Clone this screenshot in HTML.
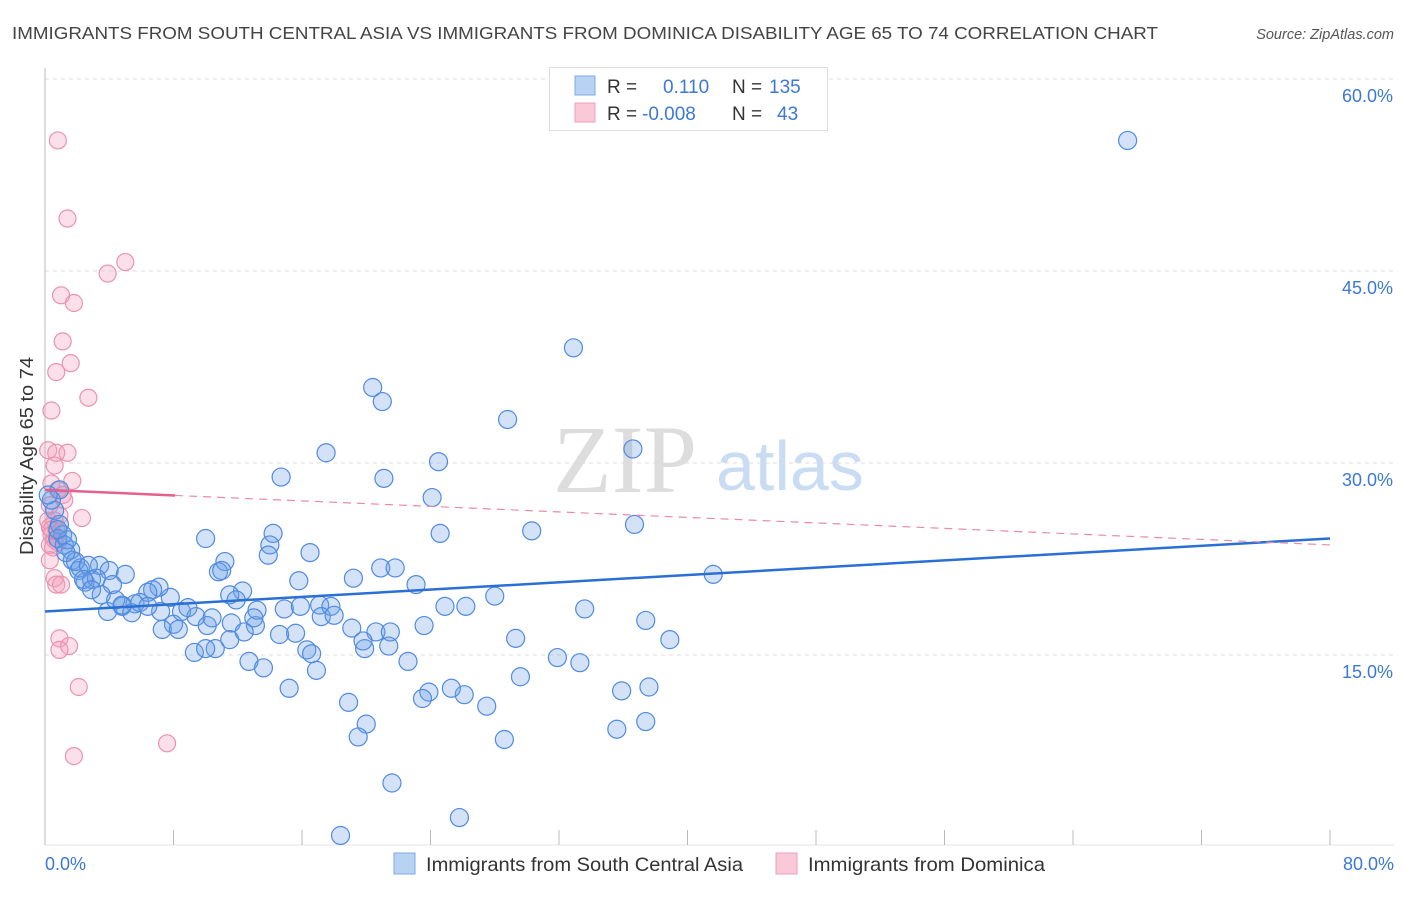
<!DOCTYPE html>
<html><head><meta charset="utf-8">
<style>
body{margin:0;background:#fff;font-family:"Liberation Sans",sans-serif;}
svg text{font-family:"Liberation Sans",sans-serif;}
</style></head>
<body>
<svg id="chart" width="1406" height="892" xmlns="http://www.w3.org/2000/svg">
<text x="12" y="39" font-size="17.5" fill="#444" textLength="1146" lengthAdjust="spacingAndGlyphs">IMMIGRANTS FROM SOUTH CENTRAL ASIA VS IMMIGRANTS FROM DOMINICA DISABILITY AGE 65 TO 74 CORRELATION CHART</text>
<text x="1394" y="39" font-size="14.5" fill="#555" font-style="italic" text-anchor="end">Source: ZipAtlas.com</text>
<g>
<text x="553" y="492" font-size="96" fill="#ddd" style="font-family:'Liberation Serif',serif">ZIP</text>
<text x="716" y="490" font-size="70" fill="#c9dcf3">atlas</text>
</g>
<text transform="translate(33,456) rotate(-90)" font-size="18" fill="#333" text-anchor="middle" textLength="198" lengthAdjust="spacingAndGlyphs">Disability Age 65 to 74</text>
<g id="grid"></g>
<g id="axes"></g>
<g id="pink"></g>
<g id="blue"></g>
<g id="trend"></g>
<g>
<rect x="549.5" y="67.5" width="278" height="63" fill="#fff" stroke="#ddd"/>
<rect x="575" y="76" width="20" height="19" fill="#b8d2f3" stroke="#7fa9e3"/>
<rect x="575" y="103" width="20" height="19" fill="#f9c9d7" stroke="#eda0b8"/>
<text x="607" y="93" font-size="19" fill="#333">R =</text>
<text x="663" y="93" font-size="19" fill="#3b78d8">0.110</text>
<text x="732" y="93" font-size="19" fill="#333">N =</text>
<text x="769" y="93" font-size="19" fill="#3b78d8">135</text>
<text x="607" y="120" font-size="19" fill="#333">R =</text>
<text x="642" y="120" font-size="19" fill="#3b78d8">-0.008</text>
<text x="732" y="120" font-size="19" fill="#333">N =</text>
<text x="777" y="120" font-size="19" fill="#3b78d8">43</text>
</g>
<g>
<rect x="394" y="853" width="21" height="21" fill="#b8d2f3" stroke="#7fa9e3"/>
<text x="426" y="871" font-size="19.5" fill="#333" textLength="317" lengthAdjust="spacingAndGlyphs">Immigrants from South Central Asia</text>
<rect x="776" y="853" width="21" height="21" fill="#f9c9d7" stroke="#eda0b8"/>
<text x="808" y="871" font-size="19.5" fill="#333" textLength="237" lengthAdjust="spacingAndGlyphs">Immigrants from Dominica</text>
</g>
</svg>
<script>
const yTicks=[15,30,45,60];
const yTickLabels=["15.0%","30.0%","45.0%","60.0%"];
const xTickLabels=["0.0%","80.0%"];
const blueX=[67.4,32.9,20.4,21.0,28.8,36.6,17.5,24.5,14.7,21.1,24.1,36.7,30.3,24.6,14.2,10.0,14.0,16.5,13.9,41.6,11.2,10.8,11.0,19.2,15.8,20.9,21.8,23.1,33.6,28.0,24.9,26.2,12.3,11.5,11.9,7.8,7.1,6.7,6.4,5.6,4.8,3.9,5.4,7.2,8.0,8.5,9.4,8.9,10.1,10.4,11.6,13.1,13.2,13.0,14.9,15.9,17.1,17.8,17.2,18.0,19.1,20.6,21.5,21.4,22.6,23.6,19.9,19.8,16.3,16.6,15.6,14.6,12.7,13.6,10.6,9.3,7.3,8.3,37.4,38.9,29.3,31.9,33.3,29.6,35.9,37.6,26.1,27.5,23.9,23.5,25.3,18.9,20.0,19.5,15.2,16.9,28.6,35.6,37.4,21.6,25.8,18.4,0.9,0.6,0.9,1.1,0.8,1.2,1.6,1.7,2.1,2.5,2.9,2.2,3.4,4.0,3.2,5.0,4.2,3.5,4.4,4.8,5.9,1.4,1.9,2.7,0.4,0.2,0.8,1.3,2.4,2.9,10.0,11.5,12.4,6.4];
const blueY=[55.2,39.0,35.9,34.8,33.4,31.1,30.8,30.1,28.9,28.8,27.3,25.2,24.7,24.5,24.5,24.1,23.6,23.0,22.8,21.3,22.3,21.5,21.6,21.0,20.8,21.8,21.8,20.5,18.6,19.6,18.8,18.8,20.0,19.7,19.3,19.5,20.3,20.1,19.9,19.0,18.8,18.4,18.3,18.4,17.4,18.4,18.0,18.7,17.3,17.9,17.5,17.3,18.5,17.9,18.6,18.8,18.9,18.8,18.0,18.1,17.1,16.8,16.8,15.7,14.5,17.3,15.5,16.1,15.4,15.1,16.7,16.6,14.5,14.0,15.5,15.2,17.0,17.0,17.7,16.2,16.3,14.8,14.4,13.3,12.2,12.5,11.9,11.0,12.1,11.6,12.4,11.3,9.6,8.6,12.4,13.8,8.4,9.2,9.8,5.0,2.3,0.9,27.9,26.3,25.2,24.4,24.1,23.6,23.2,22.4,21.6,20.7,20.9,21.8,22.0,21.6,21.0,21.3,20.5,19.7,19.3,18.9,19.1,24.0,22.3,22.0,27.1,27.5,24.8,23.0,20.9,20.1,15.5,16.2,16.8,18.8];
const pinkX=[0.8,1.4,5.0,3.9,1.0,1.8,1.1,1.6,0.7,2.7,0.4,0.2,0.7,1.4,0.6,1.7,0.4,0.8,1.1,0.3,2.3,0.6,0.3,0.7,0.4,0.6,0.3,0.8,0.5,0.6,0.7,1.0,0.9,1.5,0.9,2.1,7.6,1.8,0.2,0.4,0.9,0.3,1.2];
const pinkY=[55.2,49.1,45.7,44.8,43.1,42.5,39.5,37.8,37.1,35.1,34.1,31.0,30.8,30.8,29.8,28.6,28.4,27.9,27.5,26.7,25.7,25.5,25.0,24.8,24.4,24.0,23.6,23.8,23.4,21.0,20.5,20.5,16.3,15.7,15.4,12.5,8.1,7.1,25.5,24.8,25.9,22.4,27.1];
const blueTrend=[18.4,24.1];
const pinkTrend=[27.9,23.6];
const pinkSolidEnd=8.1;

const NS="http://www.w3.org/2000/svg";
const X0=45,X1=1330,Y0=847,PXPER=12.8;
function sx(v){return X0+(X1-X0)*v/80;}
function sy(v){return Y0-v*PXPER;}
function mk(tag,attrs,parent){const e=document.createElementNS(NS,tag);for(const k in attrs)e.setAttribute(k,attrs[k]);document.getElementById(parent).appendChild(e);return e;}

yTicks.forEach((t,i)=>{
  const l=mk('line',{x1:X0,x2:1394,y1:sy(t),y2:sy(t),stroke:'#ddd','stroke-dasharray':'4,4'},'grid');
  
  
  const tx=mk('text',{x:1393,y:sy(t)+23,'font-size':18,fill:'#3b78d8','text-anchor':'end'},'grid');
  tx.textContent=yTickLabels[i];
  
  
});
const ax=mk('line',{x1:X0,x2:X0,y1:68,y2:845,stroke:'#bbb'},'axes');


const bx=mk('line',{x1:X0,x2:1394,y1:845,y2:845,stroke:'#e6e6e6'},'axes');


for(let v=0;v<=80;v+=8){
  const t=mk('line',{x1:sx(v),x2:sx(v),y1:830,y2:845,stroke:'#bbb'},'axes');
  
  
}
const xl0=mk('text',{x:45,y:870,'font-size':18,fill:'#3b78d8'},'axes');xl0.textContent=xTickLabels[0];


const xl1=mk('text',{x:1394,y:870,'font-size':18,fill:'#3b78d8','text-anchor':'end'},'axes');xl1.textContent=xTickLabels[1];



pinkX.forEach((x,i)=>{
  const c=mk('circle',{cx:sx(x),cy:sy(pinkY[i]),r:8.5,fill:'rgba(244,160,188,0.32)',stroke:'#ec92b0','stroke-width':1.2},'pink');
  
  
});
blueX.forEach((x,i)=>{
  const c=mk('circle',{cx:sx(x),cy:sy(blueY[i]),r:9,fill:'rgba(110,160,230,0.3)',stroke:'#4f8be0','stroke-width':1.2},'blue');
  
  
});
const bt=mk('line',{x1:sx(0),y1:sy(blueTrend[0]),x2:sx(80),y2:sy(blueTrend[1]),stroke:'#2a6fd6','stroke-width':2.5},'trend');


const pAt=v=>pinkTrend[0]+(pinkTrend[1]-pinkTrend[0])*v/80;
const ps=mk('line',{x1:sx(0),y1:sy(pinkTrend[0]),x2:sx(pinkSolidEnd),y2:sy(pAt(pinkSolidEnd)),stroke:'#e4608d','stroke-width':2.5},'trend');


const pd=mk('line',{x1:sx(pinkSolidEnd),y1:sy(pAt(pinkSolidEnd)),x2:sx(80),y2:sy(pinkTrend[1]),stroke:'#e88aab','stroke-width':1.2,'stroke-dasharray':'8,6'},'trend');


</script>
</body></html>
